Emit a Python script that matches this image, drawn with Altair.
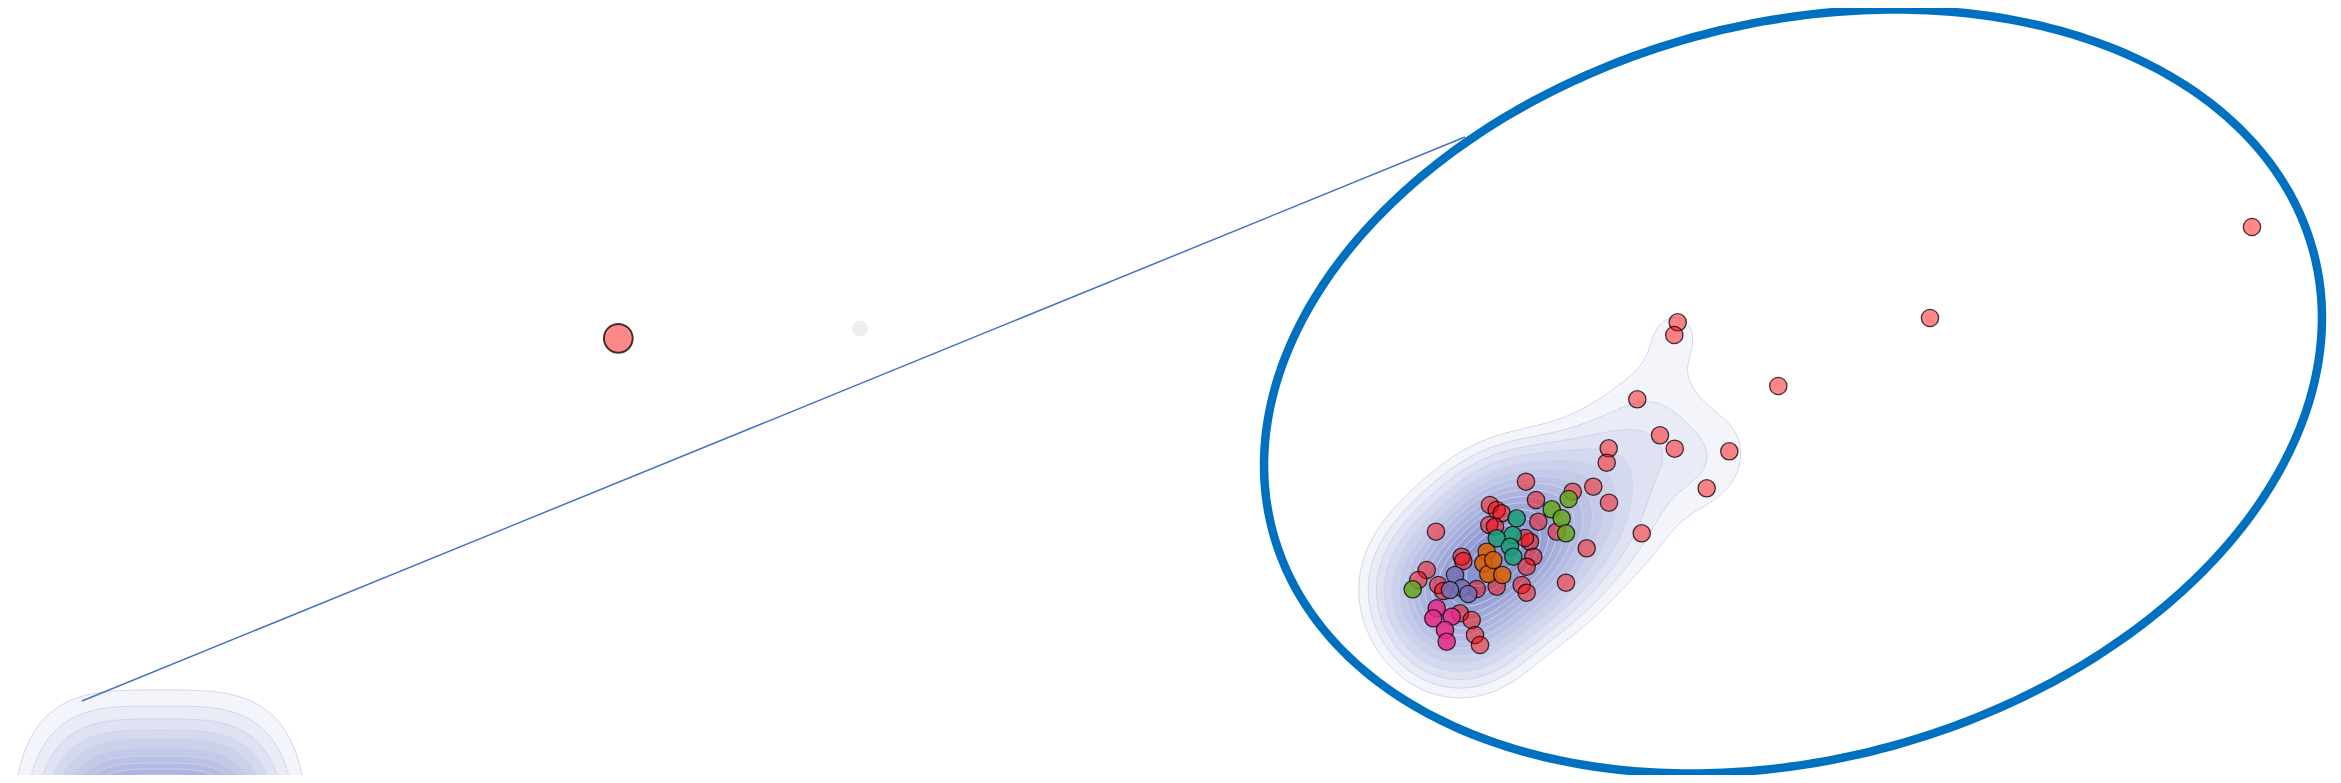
import numpy as np
import pandas as pd
import altair as alt

# ---------------- data ----------------
# "other" (red) observations
red_x = [1677.7, 1674.3, 1778.3, 1637.3, 1660.0, 1674.7, 1729.3, 1608.7, 1606.7, 1706.7,
         1593.3, 1609.0, 1641.7, 1930.0, 2252.0, 1526.0, 1536.0, 1572.7, 1538.3, 1586.7,
         1566.0, 1436.0, 1490.0, 1496.7, 1501.7, 1489.3, 1495.0, 1530.0, 1533.3, 1526.7,
         1556.7, 1461.7, 1463.3, 1426.7, 1418.3, 1438.3, 1443.3, 1476.7, 1496.7, 1521.7,
         1526.7, 1460.0, 1471.7, 1475.0, 1480.0, 1525.0]
red_y = [322.3, 335.0, 386.0, 399.3, 435.3, 448.7, 451.3, 448.3, 462.7, 488.3,
         486.7, 502.7, 533.3, 318.0, 227.0, 481.7, 500.0, 491.7, 521.7, 548.3,
         582.7, 531.7, 505.0, 510.0, 513.3, 525.0, 526.7, 541.7, 556.7, 566.7,
         531.7, 556.7, 561.0, 570.0, 580.0, 585.0, 591.0, 589.0, 586.7, 585.0,
         592.7, 613.3, 620.0, 635.0, 645.0, 538.0]

green_x = [1412.7, 1551.7, 1568.7, 1561.7, 1566.0]
green_y = [589.3, 509.3, 499.0, 518.3, 533.3]
teal_x = [1516.7, 1512.7, 1496.7, 1510.0, 1513.3]
teal_y = [518.3, 535.0, 538.3, 546.7, 556.7]
orange_x = [1486.7, 1483.3, 1488.3, 1502.3, 1493.3]
orange_y = [551.7, 563.3, 574.0, 575.0, 560.0]
purple_x = [1455.0, 1461.7, 1468.3, 1450.0]
purple_y = [575.0, 588.0, 594.0, 590.0]
magenta_x = [1436.7, 1433.3, 1451.7, 1445.0, 1446.7]
magenta_y = [608.3, 618.3, 616.7, 630.0, 641.7]

group_names = ["other", "green", "teal", "orange", "purple", "magenta"]
group_colors = ["#ff0000", "#66a61e", "#1b9e77", "#d95f02", "#7570b3", "#e7298a"]

# lone points outside the inset
lone_x = [618.3]
lone_y = [338.3]
ghost_x = [860.0]
ghost_y = [328.3]

# zoomed-out density (left, bottom): top of each ring
ring_tops = [690, 706, 719, 730, 739, 748, 756, 763, 769, 775, 780, 785, 790]
ring_center = (160.0, 890.0)
ring_outer_r = (148.5, 200.0)
ring_power = 3.5

# inset ellipse: centre, semi-axes, tilt (deg)
ell_c = (1793.0, 391.5)
ell_ax = (538.8, 368.0)
ell_tilt = 15.1

# connector lines (start -> end)
conn_x = [82.0, 350.0]
conn_y = [701.0, 905.0]
conn_x2 = [1465.0, 1848.0]
conn_y2 = [137.0, 760.0]

# density estimate settings
kde_bw = 40.0
lowest_level_obs = 2.0   # lowest contour = peak density of 2 coincident observations
n_levels = 16

X_DOMAIN = [8, 2333]
Y_DOMAIN = [8, 775]
W, H = 2325, 767

# ---------------- tables ----------------
pts_rows = []
for name, xs_, ys_ in zip(group_names,
                          [red_x, green_x, teal_x, orange_x, purple_x, magenta_x],
                          [red_y, green_y, teal_y, orange_y, purple_y, magenta_y]):
    for x, y in zip(xs_, ys_):
        pts_rows.append({"x": x, "y": y, "group": name})
pts = pd.DataFrame(pts_rows)

# isotropic gaussian KDE of the inset observations
P = pts[["x", "y"]].to_numpy()
n = len(P)
gx = np.arange(1230.0, 2370.0, 4.0)
gy = np.arange(130.0, 810.0, 4.0)
GX, GY = np.meshgrid(gx, gy)
Z = np.zeros_like(GX)
for px, py in P:
    Z += np.exp(-0.5 * ((GX - px) ** 2 + (GY - py) ** 2) / kde_bw ** 2)
Z /= (2 * np.pi * kde_bw ** 2 * n)

single = 1.0 / (2 * np.pi * kde_bw ** 2 * n)
L_low = lowest_level_obs * single
vals = np.sort(Z.ravel())[::-1]
cum = np.cumsum(vals) / vals.sum()
p_low = 1.0 - cum[np.searchsorted(-vals, -L_low, side="right") - 1]
iso = np.linspace(p_low, 1.0, n_levels)[:-1]
levels = vals[np.clip(np.searchsorted(cum, 1 - iso), 0, len(vals) - 1)]
levels[0] = L_low


def marching(Zg, xs, ys, L):
    B = Zg >= L
    c0 = B[:-1, :-1]; c1 = B[:-1, 1:]; c2 = B[1:, 1:]; c3 = B[1:, :-1]
    idx = c0 * 1 + c1 * 2 + c2 * 4 + c3 * 8
    js, is_ = np.nonzero((idx != 0) & (idx != 15))
    adj = {}

    def add(a, b):
        adj.setdefault(a, []).append(b)
        adj.setdefault(b, []).append(a)

    for j, i in zip(js, is_):
        s = [B[j, i], B[j, i + 1], B[j + 1, i + 1], B[j + 1, i]]
        e = [("h", i, j), ("v", i + 1, j), ("h", i, j + 1), ("v", i, j)]
        crossed = [k for k in range(4) if s[k] != s[(k + 1) % 4]]
        if len(crossed) == 2:
            add(e[crossed[0]], e[crossed[1]])
        elif len(crossed) == 4:
            center = (Zg[j, i] + Zg[j, i + 1] + Zg[j + 1, i + 1] + Zg[j + 1, i]) / 4 >= L
            for k in range(4):
                if s[k] != center:
                    add(e[(k - 1) % 4], e[k])

    def pt(ed):
        kind, i, j = ed
        if kind == "h":
            z0, z1 = Zg[j, i], Zg[j, i + 1]
            t = (L - z0) / (z1 - z0)
            return xs[i] + t * (xs[i + 1] - xs[i]), ys[j]
        z0, z1 = Zg[j, i], Zg[j + 1, i]
        t = (L - z0) / (z1 - z0)
        return xs[i], ys[j] + t * (ys[j + 1] - ys[j])

    seen = set()
    polys = []
    for start in adj:
        if start in seen:
            continue
        path = [start]
        seen.add(start)
        prev, cur = None, start
        while True:
            nb = adj[cur]
            cand = [m for m in nb if m != prev]
            if not cand:
                break
            nxt = cand[0]
            if nxt == start or nxt in seen:
                break
            path.append(nxt)
            seen.add(nxt)
            prev, cur = cur, nxt
        if len(path) > 3:
            polys.append([pt(ed) for ed in path])
    return polys


cont_rows = []
pid = 0
for L in levels:
    for poly in marching(Z, gx, gy, L):
        for k, (x, y) in enumerate(poly):
            cont_rows.append({"pid": pid, "k": k, "x": x, "y": y})
        pid += 1

# zoomed-out rings (superellipse shaped)
t = np.linspace(0, 2 * np.pi, 240, endpoint=False)
ex = 2.0 / ring_power
for top in ring_tops:
    s = (ring_center[1] - top) / ring_outer_r[1]
    rx, ry = ring_outer_r[0] * s, ring_outer_r[1] * s
    for k, tt in enumerate(t):
        c, sn = np.cos(tt), np.sin(tt)
        x = ring_center[0] + rx * np.sign(c) * abs(c) ** ex
        y = ring_center[1] + ry * np.sign(sn) * abs(sn) ** ex
        cont_rows.append({"pid": pid, "k": k, "x": x, "y": y})
    pid += 1
cont = pd.DataFrame(cont_rows)

# ellipse outline
th = np.deg2rad(ell_tilt)
u = np.array([np.cos(th), -np.sin(th)])
v = np.array([np.sin(th), np.cos(th)])
tt = np.linspace(0, 2 * np.pi, 400, endpoint=False)
ell = pd.DataFrame({
    "k": np.arange(len(tt)),
    "x": ell_c[0] + ell_ax[0] * np.cos(tt) * u[0] + ell_ax[1] * np.sin(tt) * v[0],
    "y": ell_c[1] + ell_ax[0] * np.cos(tt) * u[1] + ell_ax[1] * np.sin(tt) * v[1],
})

conn = pd.DataFrame({"x": conn_x, "y": conn_y, "x2": conn_x2, "y2": conn_y2})
lone = pd.DataFrame({"x": lone_x, "y": lone_y})
ghost = pd.DataFrame({"x": ghost_x, "y": ghost_y})

# ---------------- chart ----------------
xs = alt.Scale(domain=X_DOMAIN, nice=False, zero=False)
ys = alt.Scale(domain=Y_DOMAIN, nice=False, zero=False, reverse=True)


def X(f="x"):
    return alt.X(f"{f}:Q", scale=xs, axis=None)


def Y(f="y"):
    return alt.Y(f"{f}:Q", scale=ys, axis=None)


contours = alt.Chart(cont).mark_line(
    interpolate="linear-closed", fill="#3c46be", fillOpacity=0.055,
    stroke="#cfd2e6", strokeWidth=0.9
).encode(x=X(), y=Y(), detail="pid:N", order="k:Q")

connectors = alt.Chart(conn).mark_rule(color="#4472c4", strokeWidth=1.5).encode(
    x=X(), y=Y(), x2="x2:Q", y2="y2:Q")

ellipse = alt.Chart(ell).mark_line(
    interpolate="linear-closed", stroke="#0070c0", strokeWidth=8.5
).encode(x=X(), y=Y(), order="k:Q")

ghost_pt = alt.Chart(ghost).mark_circle(size=250, color="#eeeeee", opacity=1).encode(
    x=X(), y=Y())

lone_pt = alt.Chart(lone).mark_circle(
    size=830, fill="#ff0000", fillOpacity=0.47, stroke="#000000",
    strokeOpacity=0.75, strokeWidth=2
).encode(x=X(), y=Y())

red_layer = alt.Chart(pts[pts.group == "other"]).mark_circle(
    size=300, fill="#ff0000", fillOpacity=0.47, stroke="#000000",
    strokeOpacity=0.75, strokeWidth=1.3
).encode(x=X(), y=Y())

col_layer = alt.Chart(pts[pts.group != "other"]).mark_circle(
    size=300, fillOpacity=0.85, stroke="#000000", strokeOpacity=0.75, strokeWidth=1.3
).encode(
    x=X(), y=Y(),
    fill=alt.Fill("group:N", scale=alt.Scale(domain=group_names, range=group_colors),
                  legend=None),
)

chart = alt.layer(
    contours, connectors, ghost_pt, lone_pt, red_layer, col_layer, ellipse
).properties(
    width=W, height=H, padding=0,
    autosize=alt.AutoSizeParams(type="none"),
).configure_view(stroke=None)

chart.save("out.html", embed_options={"renderer": "svg", "actions": False})
